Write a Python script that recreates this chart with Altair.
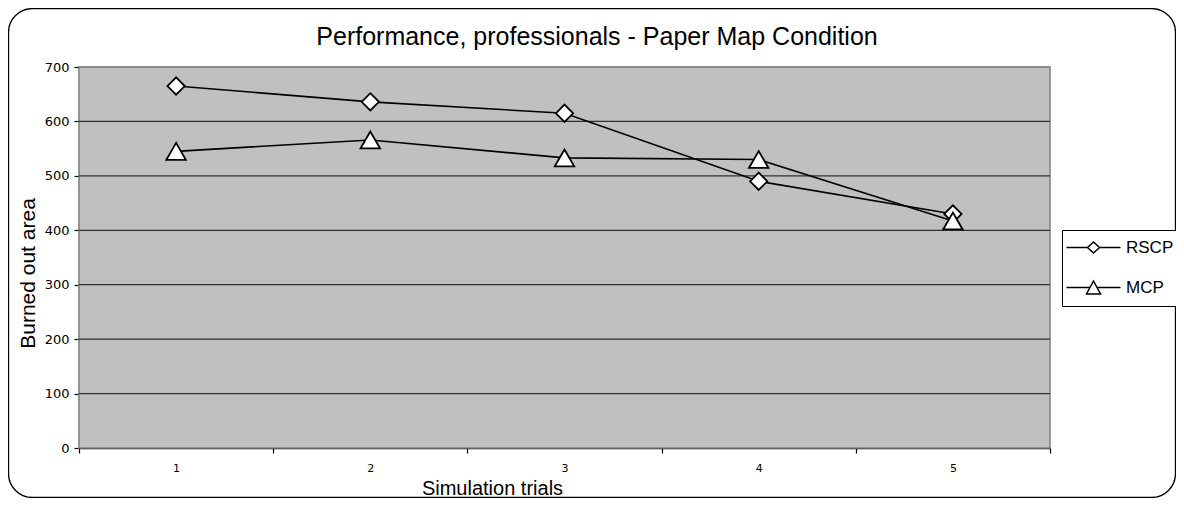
import altair as alt
import pandas as pd

# ---- data ----
trials = ["1", "2", "3", "4", "5"]
rscp = [665, 636, 615, 490, 430]
mcp = [545, 566, 533, 530, 417]
series_names = ["RSCP", "MCP"]
y_ticks = [0, 100, 200, 300, 400, 500, 600, 700]
grid_vals = [100, 200, 300, 400, 500, 600, 700]
title_text = ["Performance, professionals - Paper Map Condition"]

rows = []
for t, v in zip(trials, rscp):
    rows.append({"trial": t, "value": v, "series": "RSCP"})
for t, v in zip(trials, mcp):
    rows.append({"trial": t, "value": v, "series": "MCP"})
df = pd.DataFrame(rows)

W, H = 971, 381
FONT = "Liberation Sans"
TICKFONT = "DejaVu Sans"

x_enc = alt.X(
    "trial:O",
    sort=trials,
    scale=alt.Scale(type="band", paddingInner=0, paddingOuter=0),
    axis=alt.Axis(
        title="Simulation trials",
        tickBand="extent",
        labelAngle=0,
        grid=False,
        labelFont=TICKFONT,
        labelFontSize=11,
        labelPadding=9,
        tickSize=5,
        titleFont=FONT,
        titleFontSize=20,
        titleFontWeight="normal",
        titlePadding=5,
        titleX=413,
    ),
)
y_scale = alt.Scale(domain=[0, 700], nice=False, zero=True)
y_enc = alt.Y(
    "value:Q",
    scale=y_scale,
    axis=alt.Axis(
        title="Burned out area",
        values=y_ticks,
        grid=False,
        labelFont=TICKFONT,
        labelFontSize=13,
        labelPadding=5,
        tickSize=5,
        titleFont=FONT,
        titleFontSize=21,
        titleFontWeight="normal",
        titlePadding=6,
        titleY=206,
    ),
)

base = alt.Chart(df)

plot_bg = alt.Chart(pd.DataFrame({"k": [0]})).mark_rect(
    color="#C0C0C0", opacity=1, stroke="#808080", strokeWidth=1.5
).encode(
    x=alt.value(0), x2=alt.value("width"), y=alt.value(0), y2=alt.value("height")
)

grid = alt.Chart(pd.DataFrame({"value": grid_vals})).mark_rule(strokeWidth=1.2).encode(
    y=alt.Y("value:Q", scale=y_scale),
    x=alt.value(0),
    x2=alt.value("width"),
    color=alt.condition(alt.datum.value == 700, alt.value("#808080"), alt.value("#303030")),
)

line = base.mark_line(color="black", strokeWidth=1.6).encode(
    x=x_enc, y=y_enc, detail="series:N"
)

pts_r = base.transform_filter(alt.datum.series == "RSCP").mark_point(
    shape="diamond", size=300, filled=True, fill="white", stroke="black",
    strokeWidth=1.8, opacity=1
).encode(x=x_enc, y=y_enc)

pts_m = base.transform_filter(alt.datum.series == "MCP").mark_point(
    shape="triangle-up", size=380, filled=True, fill="white", stroke="black",
    strokeWidth=1.8, opacity=1
).encode(x=x_enc, y=y_enc)

path_r = "M-2.6,0H1.6M4,0H8.2M1.6,0L2.8,-1.1L4,0L2.8,1.1Z"
path_m = "M-2.6,0H2.1M3.5,0H8.2M1.4,1.3L2.8,-1.3L4.2,1.3Z"

legend_layer = base.transform_filter("false").mark_point(
    filled=False, color="black", strokeWidth=1.5, size=100, opacity=1
).encode(
    shape=alt.Shape(
        "series:N",
        scale=alt.Scale(domain=series_names, range=[path_r, path_m]),
        legend=alt.Legend(
            title=None,
            orient="none",
            legendX=983,
            legendY=163,
            strokeColor="black",
            fillColor="white",
            padding=9,
            rowPadding=22,
            labelFont=FONT,
            labelFontSize=17,
            labelOffset=38,
            symbolSize=100,
            symbolStrokeWidth=1.5,
            symbolStrokeColor="black",
            symbolOpacity=1,
        ),
    )
)

frame = alt.Chart(pd.DataFrame({"k": [0]})).mark_rect(
    filled=False, stroke="black", strokeWidth=1.3, cornerRadius=24
).encode(
    x=alt.value(-70.5), x2=alt.value(1096.5), y=alt.value(-58.5), y2=alt.value(430.5)
)

title = alt.Chart(pd.DataFrame({"t": title_text})).mark_text(
    font=FONT, fontSize=25, color="black", align="center", baseline="alphabetic"
).encode(text="t:N", x=alt.value(518), y=alt.value(-22))

chart = alt.layer(plot_bg, grid, frame, line, pts_r, pts_m, legend_layer, title).properties(
    width=W,
    height=H,
    padding={"left": 71, "top": 59, "right": 126, "bottom": 50},
    autosize=alt.AutoSizeParams(type="none"),
).configure_view(
    stroke=None
).configure_axis(
    domainColor="black", domainWidth=1.3, tickColor="black", tickWidth=1.2,
    labelColor="black", titleColor="black"
)

chart.save("out.html", embed_options={"renderer": "svg", "actions": False})
